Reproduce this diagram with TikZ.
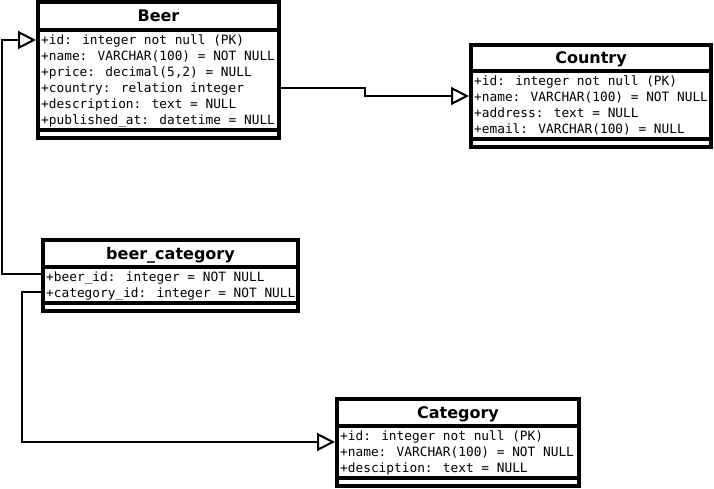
\documentclass[tikz,border=0pt]{standalone}
\usepackage{fontspec}
\setmainfont{DejaVu Sans}
\newfontfamily\attrfont{DejaVu Sans Mono}
\usetikzlibrary{arrows.meta}
\begin{document}
\begin{tikzpicture}[x=1pt,y=-1pt,
  classbox/.style={draw, line width=4pt, inner sep=0pt, anchor=north west, fill=white},
  classtitle/.style={font=\fontsize{16}{16}\selectfont\bfseries, inner sep=0pt, anchor=base},
  attr/.style={font=\attrfont\fontsize{12.8}{16}\selectfont, inner sep=0pt, anchor=base west},
  rule/.style={line width=4pt},
  assoc/.style={line width=2pt, -{Triangle[open, length=18pt, width=18pt, line width=2pt]}}]
\useasboundingbox (0,0) rectangle (714,489);

% ---------- Beer ----------
\node[classbox, minimum width=241pt, minimum height=136pt] (beer) at (36,0.5) {};
\draw[rule] (38,30) -- (279,30);
\draw[rule] (38,130) -- (279,130);
\node[classtitle] (beerT) at (158.5,22) {Beer};
\foreach \t [count=\i from 0] in {{+id: integer not null (PK)},{+name: VARCHAR(100) = NOT NULL},{+price: decimal(5,2) = NULL},{+country: relation integer},{+description: text = NULL},{+published\_at: datetime = NULL}}
  \node[attr] (beerA\i) at (41,44.7+16*\i) {\t};

% ---------- Country ----------
\node[classbox, minimum width=240pt, minimum height=102pt] (country) at (469,43) {};
\draw[rule] (471,71) -- (711,71);
\draw[rule] (471,139) -- (711,139);
\node[classtitle] (countryT) at (591,63.5) {Country};
\foreach \t [count=\i from 0] in {{+id: integer not null (PK)},{+name: VARCHAR(100) = NOT NULL},{+address: text = NULL},{+email: VARCHAR(100) = NULL}}
  \node[attr] (countryA\i) at (474,85.7+16*\i) {\t};

% ---------- beer_category ----------
\node[classbox, minimum width=255pt, minimum height=71pt] (bc) at (41,238) {};
\draw[rule] (43,267) -- (298,267);
\draw[rule] (43,303) -- (298,303);
\node[classtitle] (bcT) at (170.5,259) {beer\_category};
\foreach \t [count=\i from 0] in {{+beer\_id: integer = NOT NULL},{+category\_id: integer = NOT NULL}}
  \node[attr] (bcA\i) at (46,281.7+16*\i) {\t};

% ---------- Category ----------
\node[classbox, minimum width=242pt, minimum height=87pt] (cat) at (335,397) {};
\draw[rule] (337,426) -- (579,426);
\draw[rule] (337,478) -- (579,478);
\node[classtitle] (catT) at (458,418) {Category};
\foreach \t [count=\i from 0] in {{+id: integer not null (PK)},{+name: VARCHAR(100) = NOT NULL},{+desciption: text = NULL}}
  \node[attr] (catA\i) at (340,440.7+16*\i) {\t};

% ---------- connectors ----------
\coordinate (k1) at (365,88);
\coordinate (k2) at (365,96);
\draw[assoc] (beer.east |- k1) -- (k1) -- (k2) -- (country.west |- k2);

\coordinate (k3) at (2,274);
\coordinate (k4) at (2,40);
\draw[assoc] (bc.west |- k3) -- (k3) -- (k4) -- (beer.west |- k4);

\coordinate (k5) at (22,292);
\coordinate (k6) at (22,442);
\draw[assoc] (bc.west |- k5) -- (k5) -- (k6) -- (cat.west |- k6);
\end{tikzpicture}
\end{document}
